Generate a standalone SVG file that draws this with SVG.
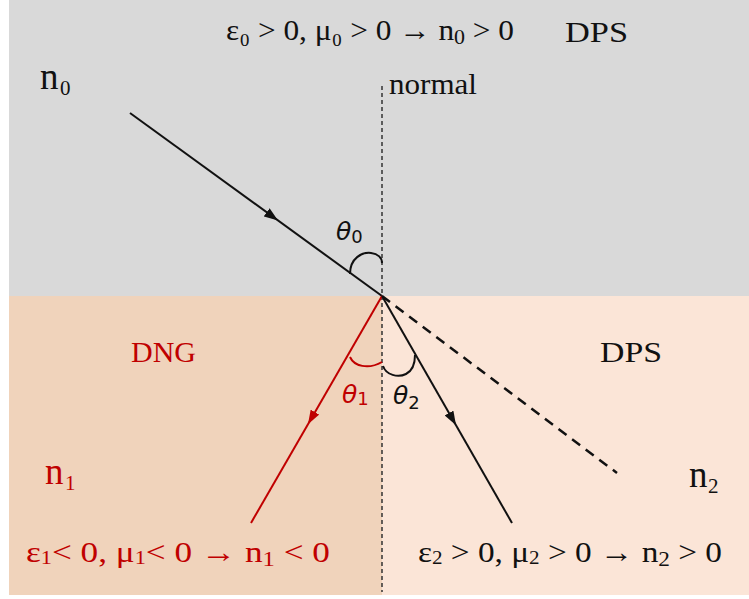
<svg xmlns="http://www.w3.org/2000/svg" width="749" height="599" viewBox="0 0 749 599">
<style>
text{font-family:"Liberation Serif","DejaVu Serif",serif;}
.blk{fill:#111;}
.red{fill:#c00000;}
.ray{stroke:#111;stroke-width:2;fill:none;}
.rray{stroke:#c00000;stroke-width:2;fill:none;}
.sym{font-family:"DejaVu Sans","Noto Sans",sans-serif;font-style:italic;}
.sub{font-family:"DejaVu Sans","Noto Sans",sans-serif;font-style:normal;}
</style>
<defs>
<marker id="ab" viewBox="0 0 14 10" refX="14" refY="5" markerWidth="14" markerHeight="10" orient="auto" markerUnits="userSpaceOnUse"><path d="M0,0 L14,5 L0,10 z" fill="#111"/></marker>
<marker id="ar" viewBox="0 0 14 10" refX="14" refY="5" markerWidth="14" markerHeight="10" orient="auto" markerUnits="userSpaceOnUse"><path d="M0,0 L14,5 L0,10 z" fill="#c00000"/></marker>
</defs>
<rect x="0" y="0" width="749" height="599" fill="#ffffff"/>
<g id="regions">
<rect x="9" y="0" width="740" height="296" fill="#d9d9d9"/>
<rect x="9" y="296" width="373" height="299" fill="#f0d3bb"/>
<rect x="382" y="296" width="367" height="299" fill="#fbe5d7"/>
</g>
<g id="connectors">
<line x1="382" y1="86" x2="382" y2="592" stroke="#333" stroke-width="1.5" stroke-dasharray="4,3"/>
<line class="ray" x1="130" y1="113" x2="382" y2="296"/>
<path d="M130,113 L278,220.5" stroke="none" fill="none" marker-end="url(#ab)"/>
<line x1="382" y1="296" x2="617" y2="473" stroke="#111" stroke-width="2.5" stroke-dasharray="10,7"/>
<line class="rray" x1="382" y1="296" x2="251" y2="523"/>
<path d="M382,296 L308,424.2" fill="none" stroke="none" marker-end="url(#ar)"/>
<line class="ray" x1="382" y1="296" x2="512" y2="523"/>
<path d="M382,296 L456,425.2" fill="none" stroke="none" marker-end="url(#ab)"/>
<path d="M350,274 C350,258 362,252 371,253 C378,254 382,258 382,263" class="ray"/>
<path d="M350,357 C354,366 368,370 382,362" class="rray"/>
<path d="M383,366 C386,375 398,378 406,374 C412,371 415,364 415,355" class="ray"/>
</g>
<g id="labels">
<text x="226" y="40" font-size="30" class="blk" textLength="288" lengthAdjust="spacingAndGlyphs">ε₀ &gt; 0, μ₀ &gt; 0 → n<tspan font-size="21" dy="4">0</tspan><tspan dy="-4"> &gt; 0</tspan></text>
<text x="565" y="42" font-size="30" class="blk" textLength="63" lengthAdjust="spacingAndGlyphs">DPS</text>
<text x="389" y="94" font-size="30" class="blk" textLength="88" lengthAdjust="spacingAndGlyphs">normal</text>
<text x="40" y="89" font-size="37" class="blk">n</text>
<text x="60" y="95" font-size="21" class="blk">0</text>
<text x="336" y="240" font-size="25" class="blk sym">θ<tspan class="sub" font-size="18" dy="3">0</tspan></text>
<text x="131" y="362" font-size="30" class="red" textLength="65" lengthAdjust="spacingAndGlyphs">DNG</text>
<text x="600" y="362" font-size="30" class="blk" textLength="62" lengthAdjust="spacingAndGlyphs">DPS</text>
<text x="342" y="403" font-size="25" class="red sym">θ<tspan class="sub" font-size="18" dy="2">1</tspan></text>
<text x="393" y="404" font-size="25" class="blk sym">θ<tspan class="sub" font-size="18" dy="5">2</tspan></text>
<text x="45" y="484" font-size="37" class="red">n</text>
<text x="65" y="490" font-size="21" class="red">1</text>
<text x="689" y="487" font-size="37" class="blk">n</text>
<text x="708" y="493" font-size="21" class="blk">2</text>
<text x="26" y="562" font-size="30" class="red" textLength="304" lengthAdjust="spacingAndGlyphs">ε<tspan font-size="19" dy="2">1</tspan><tspan dy="-2">&lt; 0, μ</tspan><tspan font-size="19" dy="2">1</tspan><tspan dy="-2">&lt; 0 →  n</tspan><tspan font-size="21" dy="4">1</tspan><tspan dy="-4"> &lt; 0</tspan></text>
<text x="418" y="562" font-size="30" class="blk" textLength="304" lengthAdjust="spacingAndGlyphs">ε<tspan font-size="19" dy="2">2</tspan><tspan dy="-2"> &gt; 0, μ</tspan><tspan font-size="19" dy="2">2</tspan><tspan dy="-2"> &gt; 0 → n</tspan><tspan font-size="21" dy="4">2</tspan><tspan dy="-4"> &gt; 0</tspan></text>
</g>
</svg>
